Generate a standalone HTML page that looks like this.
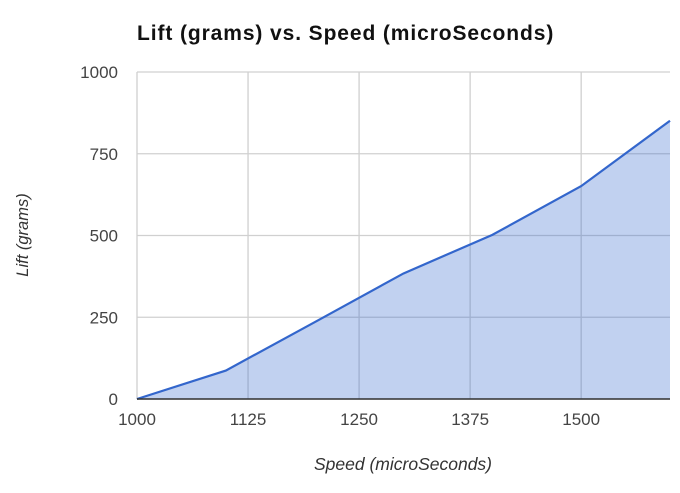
<!DOCTYPE html>
<html><head><meta charset="utf-8"><style>
body{margin:0;background:#fff;}
svg text{font-family:"Liberation Sans",Arial,sans-serif;}
</style></head><body>
<svg id="chart" width="680" height="488">
<text x="137" y="40" font-size="21" font-weight="bold" letter-spacing="0.9" fill="#111">Lift (grams) vs. Speed (microSeconds)</text>
<g id="grid"></g>
<g id="series"></g>
<g id="labels"></g>
<text x="403" y="470" font-size="17.5" font-style="italic" fill="#333" text-anchor="middle">Speed (microSeconds)</text>
<text transform="translate(28,235) rotate(-90)" font-size="16.5" font-style="italic" fill="#333" text-anchor="middle">Lift (grams)</text>
</svg>
<script>
const speeds=[1000,1100,1200,1300,1400,1500,1600];
const lift=[0,87,235,384,502,651,851];
const xTicks=[1000,1125,1250,1375,1500];
const yTicks=[0,250,500,750,1000];
const NS="http://www.w3.org/2000/svg";
const L=137,R=670,T=72,B=399,xMin=1000,xMax=1600,yMin=0,yMax=1000;
const X=v=>L+(v-xMin)/(xMax-xMin)*(R-L);
const Y=v=>B-(v-yMin)/(yMax-yMin)*(B-T);
function mk(tag,attrs,parent){const e=document.createElementNS(NS,tag);for(const k in attrs)e.setAttribute(k,attrs[k]);parent.appendChild(e);return e;}
const grid=document.getElementById('grid'),series=document.getElementById('series'),labels=document.getElementById('labels');
yTicks.forEach(t=>{
  const l=mk('line',{x1:L,x2:R,y1:Y(t),y2:Y(t),stroke:'#d0d0d0','stroke-width':1.3},grid);
  
  
  const tx=mk('text',{x:118,y:Y(t)+6,'font-size':17,fill:'#444','text-anchor':'end'},labels);
  tx.textContent=t;
  
  
});
xTicks.forEach(t=>{
  const l=mk('line',{x1:X(t),x2:X(t),y1:T,y2:B,stroke:'#d0d0d0','stroke-width':1.3},grid);
  
  
  const tx=mk('text',{x:X(t),y:425,'font-size':17,fill:'#444','text-anchor':'middle'},labels);
  tx.textContent=t;
  
  
});
let pts=speeds.map((s,i)=>X(s)+','+Y(lift[i])).join(' ');
const area=mk('polygon',{points:X(speeds[0])+','+Y(0)+' '+pts+' '+X(speeds[speeds.length-1])+','+Y(0),fill:'#3366cc','fill-opacity':0.3},series);


const line=mk('polyline',{points:pts,fill:'none',stroke:'#3366cc','stroke-width':2.2},series);


const base=mk('line',{x1:L,x2:R,y1:B,y2:B,stroke:'#333','stroke-width':1.5},series);


</script>
</body></html>
